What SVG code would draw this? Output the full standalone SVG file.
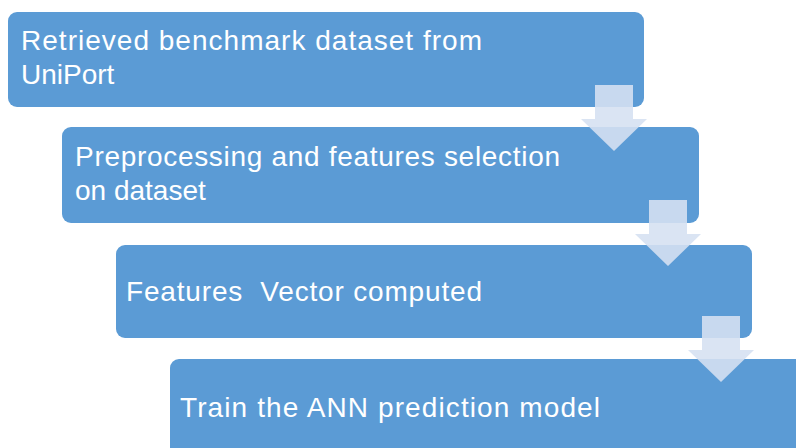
<svg xmlns="http://www.w3.org/2000/svg" width="796" height="448" viewBox="0 0 796 448">
  <style>
    .box { fill: #5b9bd5; }
    .lbl { fill: #ffffff; font-family: "Liberation Sans", Arial, sans-serif; font-size: 28px; white-space: pre; }
    .arrow { fill: #d5e1f1; fill-opacity: 0.89; }
  </style>
  <defs>
    <path id="downArrow" d="M-19,0 H19 V34 H33 L0,66 L-33,34 H-19 Z"/>
  </defs>
  <rect width="796" height="448" fill="#ffffff"/>
  <g id="node1">
    <rect class="box" x="8" y="12" width="636" height="95" rx="9"/>
    <text class="lbl" x="21" y="50" textLength="461" lengthAdjust="spacing">Retrieved benchmark dataset from</text>
    <text class="lbl" x="21" y="84">UniPort</text>
  </g>
  <g id="node2">
    <rect class="box" x="62" y="127" width="637" height="96" rx="9"/>
    <text class="lbl" x="75" y="166" textLength="485" lengthAdjust="spacing">Preprocessing and features selection</text>
    <text class="lbl" x="75" y="200">on dataset</text>
  </g>
  <g id="node3">
    <rect class="box" x="116" y="245" width="636" height="93" rx="9"/>
    <text class="lbl" x="126" y="301" textLength="356" lengthAdjust="spacing" xml:space="preserve">Features  Vector computed</text>
  </g>
  <g id="node4">
    <rect class="box" x="170" y="359" width="640" height="100" rx="9"/>
    <text class="lbl" x="180" y="417" textLength="420" lengthAdjust="spacing">Train the ANN prediction model</text>
  </g>
  <g id="connectors">
    <use href="#downArrow" class="arrow" transform="translate(614,85)"/>
    <use href="#downArrow" class="arrow" transform="translate(668,200)"/>
    <use href="#downArrow" class="arrow" transform="translate(721,316)"/>
  </g>
</svg>
